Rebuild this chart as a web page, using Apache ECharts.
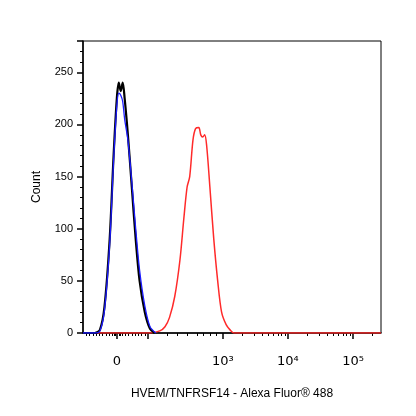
<!DOCTYPE html>
<html><head><meta charset="utf-8">
<script src="https://cdn.jsdelivr.net/npm/echarts@6/dist/echarts.min.js"></script>
<style>html,body{margin:0;padding:0;background:#fff}#c{width:416px;height:416px}</style>
</head><body><div id="c"></div>
<script>
const blackX=[0.85,1.03,1.11,1.18,1.26,1.32,1.37,1.40,1.43,1.46,1.49,1.54,1.60,1.66,1.72,1.80,1.88,1.95];
const blackY=[0,0,3,25,90,170,225,240,232,240,225,190,140,90,50,20,4,0];
const blueX=[0.85,1.03,1.11,1.18,1.26,1.32,1.37,1.40,1.43,1.46,1.49,1.54,1.60,1.66,1.72,1.80,1.88,1.97];
const blueY=[0,0,2,22,85,165,218,230,228,222,205,185,145,100,60,26,6,0];
const redX=[0.85,1.88,2.03,2.11,2.18,2.26,2.34,2.40,2.45,2.49,2.54,2.58,2.63,2.66,2.69,2.72,2.75,2.80,2.86,2.92,2.98,3.05,3.11,3.17,3.23,5.43];
const redY=[0,0,2,6,15,35,70,110,140,150,185,196,197,190,188,190,180,140,90,50,20,8,3,0,0,0];
const majorTicks=[1.37,1.85,3,4,5];
const tickLabels={'1.37':'0','3':'10³','4':'10⁴','5':'10⁵'};
const minorTicks=[];
[0.9,0.95,1.0,1.05,1.1,1.15,1.2,1.25,1.3,1.33,1.35,1.4,1.42,1.45,1.5,1.55,1.6,1.65,1.7,1.75,1.8].forEach(v=>minorTicks.push(v));
[2.15,2.3,2.45,2.6,2.7,2.8,2.9].forEach(v=>minorTicks.push(v));
[3,4].forEach(d=>{for(let k=2;k<=9;k++)minorTicks.push(d+Math.log10(k));});
[5.3].forEach(v=>minorTicks.push(v));
const mk=(x,y)=>x.map((v,i)=>[v,y[i]]);
const ch=echarts.init(document.getElementById('c'));
const font='DejaVu Sans';
ch.setOption({
 animation:false,
 grid:{left:83,right:35,top:41,bottom:83,show:true,borderColor:'#000',borderWidth:1},
 xAxis:[{type:'value',min:0.85,max:5.43,axisLine:{show:true,onZero:false,lineStyle:{color:'#000',width:1.5}},
  splitLine:{show:false},
  axisTick:{show:true,inside:false,length:6,lineStyle:{color:'#000',width:1.5},customValues:majorTicks},
  axisLabel:{margin:22,color:'#000',fontFamily:font,fontSize:13,customValues:[1.37,3,4,5],
   formatter:v=>tickLabels[String(Math.round(v*100)/100)]||''},
  name:'HVEM/TNFRSF14 - Alexa Fluor® 488',nameLocation:'middle',nameGap:55,
  nameTextStyle:{color:'#000',fontFamily:'Liberation Sans',fontSize:12}},
  {type:'value',min:0.85,max:5.43,position:'bottom',axisLine:{show:false},splitLine:{show:false},axisLabel:{show:false},
  axisTick:{show:true,length:3,lineStyle:{color:'#000'},customValues:minorTicks}}],
 yAxis:{type:'value',min:0,max:280,interval:50,
  axisLine:{show:true,lineStyle:{color:'#000',width:1.5}},splitLine:{show:false},
  axisTick:{show:true,length:6,lineStyle:{color:'#000',width:1.5}},
  minorTick:{show:true,splitNumber:5,length:3,lineStyle:{color:'#000'}},
  axisLabel:{color:'#000',fontFamily:'Liberation Sans',fontSize:11,margin:10,showMaxLabel:false},
  name:'Count',nameLocation:'middle',nameGap:40,nameTextStyle:{color:'#000',fontFamily:'Liberation Sans',fontSize:12}},
 series:[
  {type:'line',data:mk(redX,redY),smooth:0.3,symbol:'none',lineStyle:{color:'#ff2a2a',width:1.5},z:2},
  {type:'line',data:mk(blackX,blackY),smooth:0.3,symbol:'none',lineStyle:{color:'#000',width:2.2},z:3},
  {type:'line',data:mk(blueX,blueY),smooth:0.3,symbol:'none',lineStyle:{color:'#1a1aff',width:1.3},z:4}
 ]
});
</script></body></html>
